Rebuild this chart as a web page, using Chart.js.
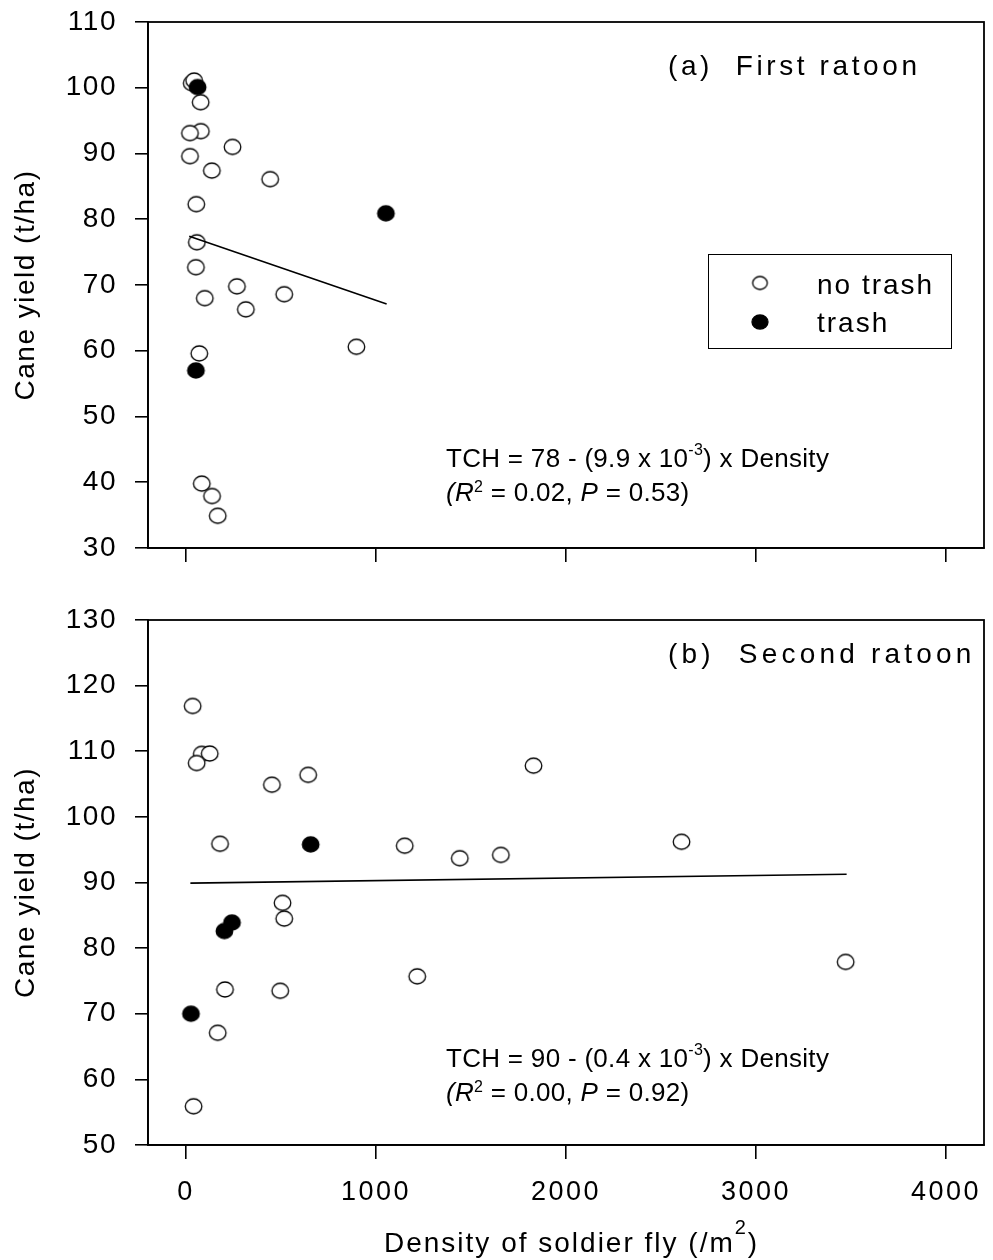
<!DOCTYPE html>
<html>
<head>
<meta charset="utf-8">
<script src="https://cdn.jsdelivr.net/npm/chart.js@4.4.1/dist/chart.umd.min.js"></script>
<style>
    html, body { margin: 0; padding: 0; background: #fff; }
    #wrap { position: relative; width: 993px; height: 1260px; }
    .panel { position: absolute; left: 0; width: 993px; }
</style>
</head>
<body>
<div id="wrap">
    <div class="panel" style="top:0;height:600px"><canvas id="firstRatoonChart" width="993" height="600"></canvas></div>
    <div class="panel" style="top:600px;height:660px"><canvas id="secondRatoonChart" width="993" height="660"></canvas></div>
</div>
<script>
// tick values
var xTickValues = [0, 1000, 2000, 3000, 4000];
var firstYTicks = [30, 40, 50, 60, 70, 80, 90, 100, 110];
var secondYTicks = [50, 60, 70, 80, 90, 100, 110, 120, 130];

// (a) First ratoon: soldier fly density (/m2) vs cane yield (t/ha)
var firstNoTrashDensity = [30, 43, 77, 78, 21, 245, 21, 136, 443, 54, 57, 52, 268, 517, 99, 315, 897, 70, 83, 137, 167];
var firstNoTrashYield   = [100.7, 101.1, 97.8, 93.4, 93.1, 91.0, 89.6, 87.4, 86.1, 82.3, 76.5, 72.7, 69.8, 68.6, 68.0, 66.3, 60.6, 59.6, 39.8, 37.9, 34.9];
var firstTrashDensity   = [61, 1052, 52];
var firstTrashYield     = [100.1, 80.9, 57.0];
var firstFitDensity     = [17, 1056];
var firstFitYield       = [77.4, 67.1];

// (b) Second ratoon
var secondNoTrashDensity = [35, 83, 125, 56, 452, 643, 179, 1151, 508, 517, 205, 496, 1217, 167, 40, 1441, 1657, 1829, 2608, 3472];
var secondNoTrashYield   = [116.9, 109.6, 109.65, 108.2, 104.9, 106.4, 95.9, 95.6, 86.9, 84.5, 73.7, 73.5, 75.7, 67.1, 55.9, 93.7, 94.2, 107.8, 96.2, 77.9];
var secondTrashDensity   = [656, 242, 202, 26];
var secondTrashYield     = [95.8, 83.9, 82.6, 70.0];
var secondFitDensity     = [23, 3477];
var secondFitYield       = [89.9, 91.25];

var FONT = '"Liberation Sans", Arial, Helvetica, sans-serif';

function toPoints(xs, ys) {
    var pts = [];
    for (var i = 0; i < xs.length; i++) {
        pts.push({ x: xs[i], y: ys[i] });
    }
    return pts;
}

// slightly wide ellipse, like the original plot symbols
function makeMarker(filled, rx, ry) {
    var c = document.createElement('canvas');
    c.width = Math.ceil(rx * 2 + 4);
    c.height = Math.ceil(ry * 2 + 4);
    var g = c.getContext('2d');
    g.beginPath();
    g.ellipse(c.width / 2, c.height / 2, rx, ry, 0, 0, Math.PI * 2);
    g.fillStyle = filled ? '#000' : '#fff';
    g.fill();
    g.lineWidth = 1.3;
    g.strokeStyle = '#000';
    g.stroke();
    return c;
}

var openMarker = makeMarker(false, 8.3, 7.5);
var filledMarker = makeMarker(true, 8.3, 7.5);
var openLegendMarker = makeMarker(false, 7.3, 6.5);
var filledLegendMarker = makeMarker(true, 8, 7);

// draws a line of text made of runs (normal / italic / superscript)
function drawRuns(ctx, x, y, runs, size, spacing) {
    ctx.textBaseline = 'alphabetic';
    ctx.textAlign = 'left';
    ctx.letterSpacing = (spacing || 0) + 'px';
    runs.forEach(function(r) {
        var fs = r.sup ? r.supSize || Math.round(size * 0.58) : size;
        ctx.font = (r.italic ? 'italic ' : '') + fs + 'px ' + FONT;
        ctx.fillText(r.t, x, r.sup ? y - (r.raise || 10) : y);
        x += ctx.measureText(r.t).width;
    });
}

function decorPlugin(cfg) {
    return {
        id: 'panelDecor',
        beforeDraw: function(chart) {
            chart.ctx.letterSpacing = '1.5px';
        },
        afterDatasetsDraw: function(chart) {
            chart.ctx.letterSpacing = '2.5px';
        },
        afterDraw: function(chart) {
            var ctx = chart.ctx;
            var a = chart.chartArea;
            ctx.save();
            ctx.fillStyle = '#000';
            ctx.strokeStyle = '#000';

            // box round the plot area
            ctx.lineWidth = 1.8;
            ctx.strokeRect(a.left, a.top, a.right - a.left, a.bottom - a.top);

            // panel label
            drawRuns(ctx, 668, cfg.labelY, [{ t: cfg.label }], 28, cfg.labelSpacing);

            // regression equation
            drawRuns(ctx, 446, cfg.eqY, [
                { t: 'TCH = ' + cfg.eqA + ' - (' + cfg.eqB + ' x 10' },
                { t: '-3', sup: true, supSize: 16, raise: 12 },
                { t: ') x Density' }
            ], 26, 0.3);
            drawRuns(ctx, 446, cfg.eqY + 34, [
                { t: '(', italic: true },
                { t: 'R', italic: true },
                { t: '2', sup: true, supSize: 16, raise: 9 },
                { t: ' = ' + cfg.r2 + ', ' },
                { t: 'P', italic: true },
                { t: ' = ' + cfg.p + ')' }
            ], 26, 0.3);

            if (cfg.legend) {
                ctx.lineWidth = 1;
                ctx.strokeRect(708.5, 254.5, 243, 94);
                ctx.drawImage(openLegendMarker, 760 - openLegendMarker.width / 2, 283 - openLegendMarker.height / 2);
                ctx.drawImage(filledLegendMarker, 760 - filledLegendMarker.width / 2, 322 - filledLegendMarker.height / 2);
                drawRuns(ctx, 817, 294, [{ t: 'no trash' }], 28, 2);
                drawRuns(ctx, 817, 332, [{ t: 'trash' }], 28, 2);
            }

            if (cfg.xTitle) {
                drawRuns(ctx, 384, 652, [
                    { t: 'Density of soldier fly (/m' },
                    { t: '2', sup: true, supSize: 20, raise: 18 },
                    { t: ')' }
                ], 28, 2);
            }
            ctx.restore();
        }
    };
}

function makeChart(canvasId, d) {
    var ctx = document.getElementById(canvasId).getContext('2d');
    return new Chart(ctx, {
        type: 'scatter',
        data: {
            datasets: [
                {
                    label: 'fit',
                    data: toPoints(d.fitX, d.fitY),
                    showLine: true,
                    borderColor: '#000',
                    borderWidth: 1.6,
                    pointRadius: 0,
                    order: 0
                },
                {
                    label: 'trash',
                    data: toPoints(d.trashX, d.trashY),
                    pointStyle: filledMarker,
                    pointRadius: 8,
                    order: 1
                },
                {
                    label: 'no trash',
                    data: toPoints(d.openX, d.openY),
                    pointStyle: openMarker,
                    pointRadius: 8,
                    order: 2
                }
            ]
        },
        options: {
            responsive: false,
            devicePixelRatio: 1,
            animation: false,
            layout: { padding: { top: d.padTop, right: 1, left: 0, bottom: 0 } },
            plugins: {
                legend: { display: false },
                tooltip: { enabled: false }
            },
            scales: {
                x: {
                    type: 'linear',
                    min: -200,
                    max: 4200,
                    afterBuildTicks: function(scale) {
                        scale.ticks = xTickValues.map(function(v) { return { value: v }; });
                    },
                    afterFit: function(scale) {
                        scale.height = d.xHeight;
                        scale.paddingLeft = 0;
                        scale.paddingRight = 0;
                    },
                    grid: { drawOnChartArea: false, drawTicks: true, tickLength: 14, color: '#000', lineWidth: 1.6 },
                    border: { display: true, color: '#000', width: 1.8 },
                    ticks: {
                        display: d.showXLabels,
                        z: 1,
                        color: '#000',
                        padding: 17,
                        autoSkip: false,
                        maxRotation: 0,
                        callback: function(v) { return String(v); },
                        font: { family: FONT, size: 27 }
                    }
                },
                y: {
                    type: 'linear',
                    min: d.yTicks[0],
                    max: d.yTicks[d.yTicks.length - 1],
                    afterBuildTicks: function(scale) {
                        scale.ticks = d.yTicks.map(function(v) { return { value: v }; });
                    },
                    afterFit: function(scale) {
                        scale.width = 148;
                        scale.paddingTop = 0;
                        scale.paddingBottom = 0;
                    },
                    grid: { drawOnChartArea: false, drawTicks: true, tickLength: 13, color: '#000', lineWidth: 1.6 },
                    border: { display: true, color: '#000', width: 1.8 },
                    ticks: {
                        color: '#000',
                        padding: 18,
                        autoSkip: false,
                        callback: function(v) { return String(v); },
                        font: { family: FONT, size: 28 }
                    },
                    title: {
                        display: true,
                        text: 'Cane yield (t/ha)',
                        color: '#000',
                        font: { family: FONT, size: 28 },
                        padding: { top: 9, bottom: 0 }
                    }
                }
            }
        },
        plugins: [decorPlugin(d.decor)]
    });
}

makeChart('firstRatoonChart', {
    openX: firstNoTrashDensity, openY: firstNoTrashYield,
    trashX: firstTrashDensity, trashY: firstTrashYield,
    fitX: firstFitDensity, fitY: firstFitYield,
    yTicks: firstYTicks,
    padTop: 22, xHeight: 52, showXLabels: false,
    decor: { label: '(a)  First ratoon', labelY: 75, labelSpacing: 3.6, eqY: 467, eqA: '78', eqB: '9.9', r2: '0.02', p: '0.53', legend: true }
});

makeChart('secondRatoonChart', {
    openX: secondNoTrashDensity, openY: secondNoTrashYield,
    trashX: secondTrashDensity, trashY: secondTrashYield,
    fitX: secondFitDensity, fitY: secondFitYield,
    yTicks: secondYTicks,
    padTop: 20, xHeight: 115, showXLabels: true,
    decor: { label: '(b)  Second ratoon', labelY: 63, labelSpacing: 4.2, eqY: 467, eqA: '90', eqB: '0.4', r2: '0.00', p: '0.92', legend: false, xTitle: true }
});
</script>
</body>
</html>
